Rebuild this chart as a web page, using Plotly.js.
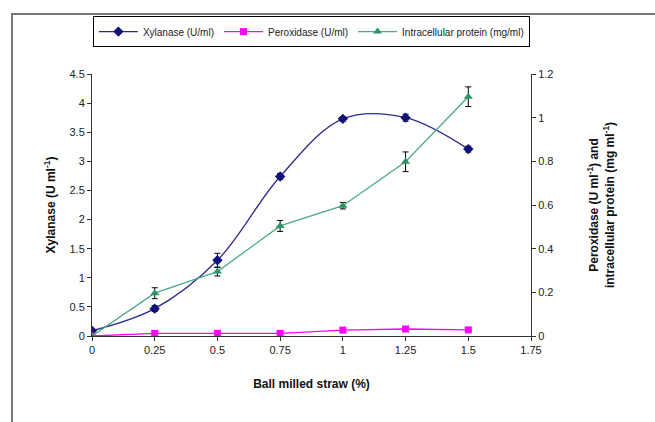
<!DOCTYPE html>
<html><head><meta charset="utf-8">
<script src="https://cdn.plot.ly/plotly-3.0.1.min.js"></script>
<style>html,body{margin:0;padding:0;background:#fff}#chart{width:655px;height:422px}</style>
</head><body><div id="chart"></div>
<script>
const strawPct = [0, 0.25, 0.5, 0.75, 1, 1.25, 1.5];
const xylanase = [0.09, 0.47, 1.30, 2.74, 3.73, 3.75, 3.21];
const xylanaseErr = [0.03, 0.05, 0.12, 0.05, 0.04, 0.06, 0.05];
const peroxidase = [0, 0.012, 0.012, 0.012, 0.027, 0.032, 0.028];
const peroxidaseErr = [0, 0.003, 0.003, 0.003, 0.003, 0.003, 0.003];
const protein = [0, 0.196, 0.295, 0.504, 0.597, 0.798, 1.096];
const proteinErr = [0, 0.025, 0.02, 0.025, 0.015, 0.045, 0.045];
const xTicks = [0, 0.25, 0.5, 0.75, 1, 1.25, 1.5, 1.75];
const yLeftTicks = [0, 0.5, 1, 1.5, 2, 2.5, 3, 3.5, 4, 4.5];
const yRightTicks = [0, 0.2, 0.4, 0.6, 0.8, 1, 1.2];

const font = {family: 'Liberation Sans, Arial, sans-serif', size: 11, color: '#222'};
const errStyle = {type: 'data', visible: true, color: '#000', thickness: 1, width: 3};

const traces = [
  {x: strawPct, y: xylanase, name: 'Xylanase (U/ml)', type: 'scatter', mode: 'lines+markers',
   line: {color: '#2b2b8c', width: 1.3, shape: 'spline'},
   marker: {symbol: 'diamond', size: 8, color: '#10107a'},
   error_y: Object.assign({array: xylanaseErr}, errStyle)},
  {x: strawPct, y: peroxidase, name: 'Peroxidase (U/ml)', type: 'scatter', mode: 'lines+markers', yaxis: 'y2',
   line: {color: '#ff00ff', width: 1.3},
   marker: {symbol: 'square', size: 7, color: '#ff00ff'},
   error_y: Object.assign({array: peroxidaseErr}, errStyle)},
  {x: strawPct, y: protein, name: 'Intracellular protein (mg/ml)', type: 'scatter', mode: 'lines+markers', yaxis: 'y2',
   line: {color: '#4daa80', width: 1.3},
   marker: {symbol: 'triangle-up', size: 8, color: '#2e9466'},
   error_y: Object.assign({array: proteinErr}, errStyle)}
];

const layout = {
  width: 655, height: 422,
  margin: {l: 92, r: 124, t: 74, b: 86, pad: 0},
  paper_bgcolor: '#fff', plot_bgcolor: '#fff',
  font: font,
  showlegend: true,
  legend: {orientation: 'h', x: 0.002, y: 1.221, xanchor: 'left', yanchor: 'top',
    bordercolor: '#000', borderwidth: 1, bgcolor: '#fff',
    font: {family: 'Liberation Sans, Arial, sans-serif', size: 10, color: '#222'},
    itemwidth: 39, traceorder: 'normal'},
  xaxis: {range: [0, 1.75], tickvals: xTicks, ticktext: xTicks.map(String),
    showgrid: false, zeroline: false, showline: true, linecolor: '#333', linewidth: 1,
    ticks: 'outside', ticklen: 4, tickcolor: '#333', tickfont: font,
    title: {text: '<b>Ball milled straw (%)</b>', font: {family: 'Liberation Sans, Arial, sans-serif', size: 12, color: '#111'}, standoff: 24}},
  yaxis: {range: [0, 4.5], tickvals: yLeftTicks, ticktext: yLeftTicks.map(String),
    showgrid: false, zeroline: false, showline: true, linecolor: '#333', linewidth: 1,
    ticks: 'outside', ticklen: 4, tickcolor: '#333', tickfont: font,
    title: {text: '<b>Xylanase (U ml<sup>-1</sup>)</b>', font: {family: 'Liberation Sans, Arial, sans-serif', size: 12, color: '#111'}, standoff: 11}},
  yaxis2: {range: [0, 1.2], tickvals: yRightTicks, ticktext: yRightTicks.map(String),
    overlaying: 'y', side: 'right', anchor: 'x',
    showgrid: false, zeroline: false, showline: true, linecolor: '#333', linewidth: 1,
    ticks: 'outside', ticklen: 4, tickcolor: '#333', tickfont: font,
    title: {text: '<b>Peroxidase (U ml<sup>-1</sup>) and<br>intracellular protein (mg ml<sup>-1</sup>)</b>', font: {family: 'Liberation Sans, Arial, sans-serif', size: 12, color: '#111'}, standoff: 37}},
  shapes: [
    {type: 'rect', xref: 'paper', yref: 'paper', x0: -0.1822, x1: 1.3, y0: -0.35, y1: 1.229,
     line: {color: '#777', width: 2}, fillcolor: 'rgba(0,0,0,0)', layer: 'below'}
  ]
};

Plotly.newPlot('chart', traces, layout, {displayModeBar: false, staticPlot: true});
</script></body></html>
